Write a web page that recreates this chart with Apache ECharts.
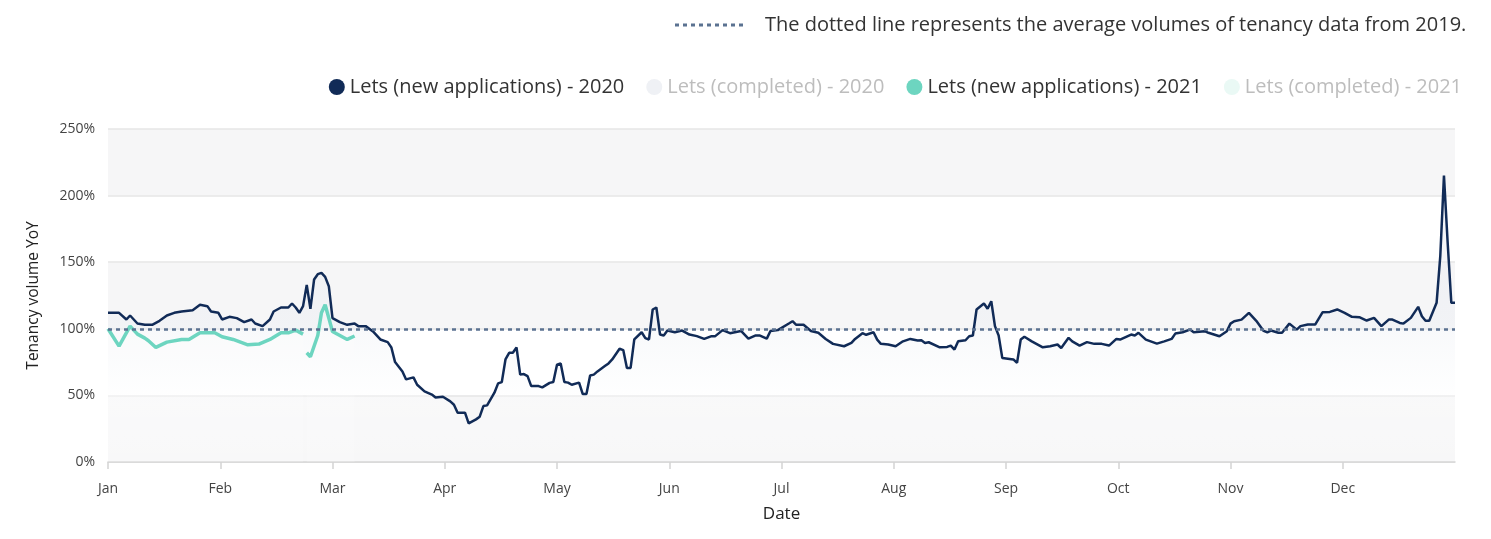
<!DOCTYPE html>
<html lang="en">
<head>
<meta charset="UTF-8">
<title>Tenancy volume YoY</title>
<script src="https://cdn.jsdelivr.net/npm/echarts@6.0.0/dist/echarts.min.js"></script>
<style>
html, body { margin: 0; padding: 0; background: #fff; }
#chart { width: 1491px; height: 539px; }
</style>
</head>
<body>
<div id="chart"></div>
<script>
// month tick labels, evenly spaced along the day axis
const months = ['Jan', 'Feb', 'Mar', 'Apr', 'May', 'Jun', 'Jul', 'Aug', 'Sep', 'Oct', 'Nov', 'Dec'];
const daysPerTick = 30.5;

// [day of year, % of 2019 volume]
const lets2020 = [
[0,112],[3,112],[5,107],[6,110],[8,104],[10,103],[12,103],[14,106],[16,110],[18,112],[20,113],[23,114],[25,118],[27,117],[28,113],[30,112],
[31,107],[33,109],[35,108],[37,105],[39,107],[40,104],[42,102],[44,107],[45,113],[47,116],[49,116],[50,119],[51,116],[52,112],[53,117],[54,133],[55,115],[56,137],[57,141],[58,142],[59,139],[60,132],
[61,108],[63,105],[65,103],[67,104],[68,102],[70,102],[72,98],[74,92],[76,90],[77,86],[78,75],[80,68],[81,62],[83,63.5],[84,58],[86,53],[88,50.6],[89,48.5],
[91,49],[93,45.5],[94,43],[95,37],[97,37],[98,29],[100,32],[101,34],[102,42],[103,42.5],[105,52],[106,59],[107,60],[108,77],[109,82],[110,82],[111,86],[112,65.6],[113,66],[114,64.5],[115,57],[117,57],[118,56],[120,59.4],
[121,60],[122,73],[123,74],[124,60],[125,59.6],[126,58],[128,59.6],[129,51],[130,51],[131,65],[132,65.6],[133,68],[135,72],[136,74],[137,77],[139,85],[140,84],[141,70.6],[142,70.6],[143,92],[145,97.4],[146,93],[147,92],[148,114.5],[149,116],[150,95.7],
[151,95],[152,98.7],[154,97.4],[156,98.7],[158,95.7],[160,94.5],[162,92.4],[164,94.5],[165,94.5],[167,99],[169,96.7],[172,98.4],[174,92.6],[176,95],[177,95],[179,92.6],[180,98.4],
[182,99],[185,104],[186,105.7],[187,103],[189,103],[191,98.4],[193,97],[195,92.4],[197,88.7],[200,86.9],[202,89.4],[203,92.4],[205,96.7],[206,95.5],[208,97.4],[209,91.9],[210,88.7],
[212,88.2],[214,86.9],[216,90.6],[218,92.4],[220,91.2],[221,91.4],[222,89.4],[223,89.9],[226,86.1],[228,86.4],[229,87.4],[230,84.4],[231,90.6],[233,91.4],[234,94.4],[235,95],[236,114.5],[238,119],[239,115],[240,120.7],
[241,102],[242,95],[243,78],[245,77.4],[246,77],[247,74.4],[248,91.9],[249,94],[251,90.6],[254,86.1],[256,86.9],[258,88.2],[259,85.6],[261,93.2],[262,90.6],[264,87.4],[266,90],[268,88.7],[270,88.7],
[272,87.4],[274,92.4],[275,91.9],[278,95.7],[279,95],[280,97],[282,91.9],[285,88.9],[287,90.6],[289,92.4],[290,96.4],[292,97.4],[294,99.4],[295,97.4],[298,98.2],[299,97],
[302,94.4],[304,98.2],[305,103.9],[306,105.7],[308,106.9],[310,112],[312,106],[314,98.4],[315,97.4],[316,98.7],[318,97],[319,97],[321,103.9],[323,99.4],[324,102],[326,103.2],[328,103.2],[330,112.4],
[332,112.7],[334,114.5],[336,112],[338,109],[340,108.7],[342,106.2],[344,108.2],[346,102],[348,106.9],[349,106.9],[351,104.4],[352,103.9],[354,108.2],[356,116.5],[357,109.4],[358,106],[359,106],
[361,119.5],[362,154.5],[363,215],[364,165],[365,119.5],[366,119.5]
];

const lets2021 = [
[0,100],[3,87],[6,102],[8,96],[10,93],[11,91],[13,86],[16,90],[20,92],[22,92],[25,97],[29,97],
[31,94],[34,92],[38,88],[41,88.5],[44,92],[47,97],[49,97],[51,99],[53,96],[53.5,null],[54,82],[55,79],[57,95],[58,112],[59,118],[60,108],
[61,98],[63,95],[65,92],[67,94.6]
];

const averageLevel = 100;
const legendNames = ['Lets (new applications) - 2020', 'Lets (completed) - 2020', 'Lets (new applications) - 2021', 'Lets (completed) - 2021'];
const noteText = 'The dotted line represents the average volumes of tenancy data from 2019.';

const font = '"Open Sans", Lato, sans-serif';
const tickDays = months.map((m, i) => i * daysPerTick);

const chart = echarts.init(document.getElementById('chart'));
chart.setOption({
animation: false,
textStyle: { fontFamily: font },
grid: { left: 108, right: 36, top: 129, bottom: 77 },
graphic: [
{
type: 'line',
shape: { x1: 675, y1: 25, x2: 745, y2: 25 },
style: { stroke: '#5b7291', lineWidth: 3, lineDash: [4, 4] }
},
{
type: 'text',
x: 765, y: 25,
style: { text: noteText, fill: '#333', font: '20px ' + font, textVerticalAlign: 'middle' }
}
],
legend: {
top: 72,
right: 24,
icon: 'circle',
itemWidth: 16,
itemHeight: 16,
itemGap: 22,
textStyle: { fontSize: 20, color: '#333', fontFamily: font },
data: [
{ name: legendNames[0] },
{ name: legendNames[1], itemStyle: { color: '#eff1f5' }, textStyle: { color: '#bdbdbd' } },
{ name: legendNames[2] },
{ name: legendNames[3], itemStyle: { color: '#eaf9f5' }, textStyle: { color: '#bdbdbd' } }
]
},
xAxis: {
type: 'value',
min: 0,
max: 366,
interval: daysPerTick,
name: 'Date',
nameLocation: 'middle',
nameGap: 44,
nameTextStyle: { fontSize: 17, color: '#222', fontWeight: 500 },
axisLine: { lineStyle: { color: '#d4d4d4', width: 1.5 } },
axisTick: { length: 7, customValues: tickDays, lineStyle: { color: '#d4d4d4', width: 1.5 } },
axisLabel: {
customValues: tickDays,
margin: 20,
fontSize: 14,
color: '#444',
formatter: v => months[Math.round(v / daysPerTick)] || ''
},
splitLine: { show: false }
},
yAxis: {
type: 'value',
min: 0,
max: 250,
interval: 50,
name: 'Tenancy volume YoY',
nameLocation: 'middle',
nameGap: 66,
nameTextStyle: { fontSize: 15.5, color: '#222' },
axisLine: { show: false },
axisTick: { show: false },
axisLabel: { formatter: '{value}%', fontSize: 14, color: '#444', margin: 13 },
splitLine: { lineStyle: { color: '#e6e6e6', width: 1.5 } },
splitArea: { show: true, areaStyle: { color: ['#f6f6f7', '#ffffff'] } }
},
series: [
{
name: legendNames[0],
type: 'line',
data: lets2020,
showSymbol: false,
color: '#112b57',
lineStyle: { width: 2.5, color: '#112b57' },
areaStyle: {
color: {
type: 'linear', x: 0, y: 0, x2: 0, y2: 1,
colorStops: [
{ offset: 0, color: 'rgba(222,226,235,0.55)' },
{ offset: 0.5, color: 'rgba(234,237,243,0.55)' },
{ offset: 0.8, color: 'rgba(255,255,255,0.45)' },
{ offset: 1, color: 'rgba(255,255,255,0.2)' }
]
}
},
markLine: {
silent: true,
symbol: 'none',
label: { show: false },
lineStyle: { color: '#5b7291', width: 2.5, type: [4, 4] },
data: [{ yAxis: averageLevel }]
}
},
{ name: legendNames[1], type: 'line', data: [], color: '#eff1f5' },
{
name: legendNames[2],
type: 'line',
data: lets2021,
showSymbol: false,
color: '#6dd5c0',
lineStyle: { width: 3.5, color: '#6dd5c0' },
areaStyle: { color: 'rgba(255,255,255,0.25)' }
},
{ name: legendNames[3], type: 'line', data: [], color: '#eaf9f5' }
]
});
</script>
</body>
</html>
